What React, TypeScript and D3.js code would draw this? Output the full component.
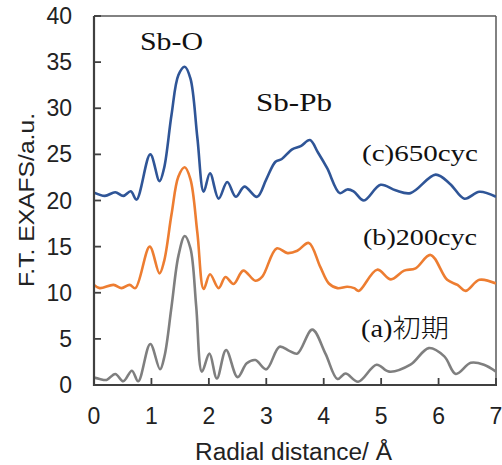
import React from "react";
import * as d3 from "d3";

const W = 502;
const H = 465;

const xTicks = [0, 1, 2, 3, 4, 5, 6, 7];
const yTicks = [0, 5, 10, 15, 20, 25, 30, 35, 40];

// (c) 650cyc
const seriesC: [number, number][] = [
  [0, 20.85], [0.19, 20.5], [0.37, 20.9], [0.51, 20.5], [0.64, 21.0], [0.74, 20.1],
  [0.98, 25.0], [1.14, 22.1], [1.22, 23.5], [1.35, 29.3], [1.47, 33.6], [1.58, 34.5],
  [1.68, 33.2], [1.8, 26.8], [1.91, 20.95], [2.02, 22.95], [2.17, 20.2], [2.32, 22.0],
  [2.47, 20.4], [2.62, 21.5], [2.84, 20.4], [3.0, 22.3], [3.16, 24.2], [3.27, 24.5],
  [3.45, 25.55], [3.6, 25.9], [3.76, 26.55], [3.9, 25.2], [4.06, 23.5], [4.28, 20.8],
  [4.41, 21.2], [4.52, 21.0], [4.7, 20.0], [4.99, 21.7], [5.25, 21.1], [5.51, 20.8],
  [5.95, 22.8], [6.2, 21.8], [6.45, 20.2], [6.71, 20.95], [7.0, 20.4],
];

// (b) 200cyc
const seriesB: [number, number][] = [
  [0, 10.85], [0.1, 10.5], [0.34, 10.85], [0.48, 10.5], [0.62, 10.85], [0.72, 10.5],
  [0.97, 15.0], [1.14, 12.1], [1.22, 13.4], [1.35, 18.5], [1.47, 22.6], [1.58, 23.6],
  [1.68, 22.3], [1.8, 16.5], [1.91, 10.4], [2.02, 12.0], [2.17, 10.5], [2.29, 11.7],
  [2.43, 10.95], [2.6, 12.4], [2.81, 11.3], [2.93, 11.75], [3.18, 14.8], [3.37, 14.3],
  [3.54, 14.55], [3.74, 15.4], [3.94, 12.8], [4.09, 11.0], [4.24, 10.5], [4.41, 10.65],
  [4.53, 10.5], [4.61, 10.2], [4.93, 12.5], [5.17, 11.45], [5.4, 12.4], [5.6, 12.65],
  [5.86, 14.1], [6.15, 11.4], [6.33, 10.85], [6.47, 10.2], [6.71, 11.4], [7.0, 11.0],
];

// (a) 初期
const seriesA: [number, number][] = [
  [0, 0.8], [0.1, 0.65], [0.22, 0.55], [0.37, 1.2], [0.51, 0.4], [0.66, 1.55], [0.77, 0.4],
  [0.98, 4.45], [1.15, 1.7], [1.23, 3.2], [1.35, 8.5], [1.47, 14.0], [1.58, 16.15],
  [1.68, 14.8], [1.78, 8.5], [1.88, 1.45], [2.01, 3.4], [2.14, 0.7], [2.3, 3.8],
  [2.5, 0.85], [2.66, 2.35], [2.81, 2.7], [3.0, 1.7], [3.23, 4.15], [3.4, 3.7],
  [3.54, 3.4], [3.8, 6.0], [4.03, 3.4], [4.24, 0.65], [4.38, 1.25], [4.6, 0.36],
  [4.92, 2.2], [5.14, 1.45], [5.51, 2.2], [5.83, 4.0], [6.1, 3.1], [6.3, 1.2],
  [6.56, 2.4], [6.79, 2.2], [7.0, 1.45],
];

const seriesList = [
  { name: "a", data: seriesA, color: "#7F7F7F" },
  { name: "b", data: seriesB, color: "#ED7D31" },
  { name: "c", data: seriesC, color: "#2F5597" },
];

export default function App() {
  const left = 94, right = 496, top = 16, bottom = 385;
  const x = d3.scaleLinear().domain([0, 7]).range([left, right]);
  const y = d3.scaleLinear().domain([0, 40]).range([bottom, top]);
  const line = d3
    .line<[number, number]>()
    .x((d) => x(d[0]))
    .y((d) => y(d[1]))
    .curve(d3.curveCatmullRom.alpha(0.5));

  const sans = "'Liberation Sans', Arial, sans-serif";
  const serif = "'Liberation Serif', 'Times New Roman', serif";
  const axisColor = "#404040";

  return (
    <svg width={W} height={H} style={{ position: "absolute", left: 0, top: 0, background: "#fff" }}>
      <rect x={0} y={0} width={W} height={H} fill="#fff" />
      {/* frame */}
      <line x1={left} y1={top} x2={right} y2={top} stroke="#595959" strokeWidth={1.5} />
      <line x1={right} y1={top} x2={right} y2={bottom} stroke="#595959" strokeWidth={1.5} />
      <clipPath id="plot">
        <rect x={left} y={top} width={right - left} height={bottom - top} />
      </clipPath>
      <g clipPath="url(#plot)">
        {seriesList.map((s) => (
          <path key={s.name} d={line(s.data) || ""} fill="none" stroke={s.color} strokeWidth={2.6} strokeLinejoin="round" />
        ))}
      </g>
      <line x1={left} y1={top} x2={left} y2={bottom + 1} stroke={axisColor} strokeWidth={2.2} />
      <line x1={left - 1} y1={bottom} x2={right + 1} y2={bottom} stroke={axisColor} strokeWidth={2.2} />
      {yTicks.map((t) => (
        <g key={"y" + t}>
          <line x1={left} x2={left + 7} y1={y(t)} y2={y(t)} stroke={axisColor} strokeWidth={1.8} />
          <text x={72} y={y(t) + 8} textAnchor="end" fontFamily={sans} fontSize={23} fill="#222">
            {t}
          </text>
        </g>
      ))}
      {xTicks.map((t) => (
        <g key={"x" + t}>
          <line x1={x(t)} x2={x(t)} y1={bottom} y2={bottom - 7} stroke={axisColor} strokeWidth={1.8} />
          <text x={x(t)} y={424} textAnchor="middle" fontFamily={sans} fontSize={23} fill="#222">
            {t}
          </text>
        </g>
      ))}
      <text
        transform={`translate(34,200) rotate(-90)`}
        textAnchor="middle"
        fontFamily={sans}
        fontSize={22}
        fill="#222"
        textLength={174}
        lengthAdjust="spacingAndGlyphs"
      >
        F.T. EXAFS/a.u.
      </text>
      <text x={195} y={460} fontFamily={sans} fontSize={23} fill="#222" textLength={197} lengthAdjust="spacingAndGlyphs">
        Radial distance/ Å
      </text>
      <text x={140} y={50} fontFamily={serif} fontSize={25} fill="#111" textLength={63} lengthAdjust="spacingAndGlyphs">
        Sb-O
      </text>
      <text x={256} y={111} fontFamily={serif} fontSize={25} fill="#111" textLength={76} lengthAdjust="spacingAndGlyphs">
        Sb-Pb
      </text>
      <text x={362} y={161} fontFamily={serif} fontSize={24} fill="#111" textLength={116} lengthAdjust="spacingAndGlyphs">
        (c)650cyc
      </text>
      <text x={363} y={245} fontFamily={serif} fontSize={24} fill="#111" textLength={114} lengthAdjust="spacingAndGlyphs">
        (b)200cyc
      </text>
      <text x={361} y={337} fontFamily={serif} fontSize={25} fill="#111" textLength={88} lengthAdjust="spacingAndGlyphs">
        (a)<tspan fontFamily="'Noto Sans CJK JP', sans-serif" fontSize={25} fontWeight={300}>初期</tspan>
      </text>
    </svg>
  );
}
